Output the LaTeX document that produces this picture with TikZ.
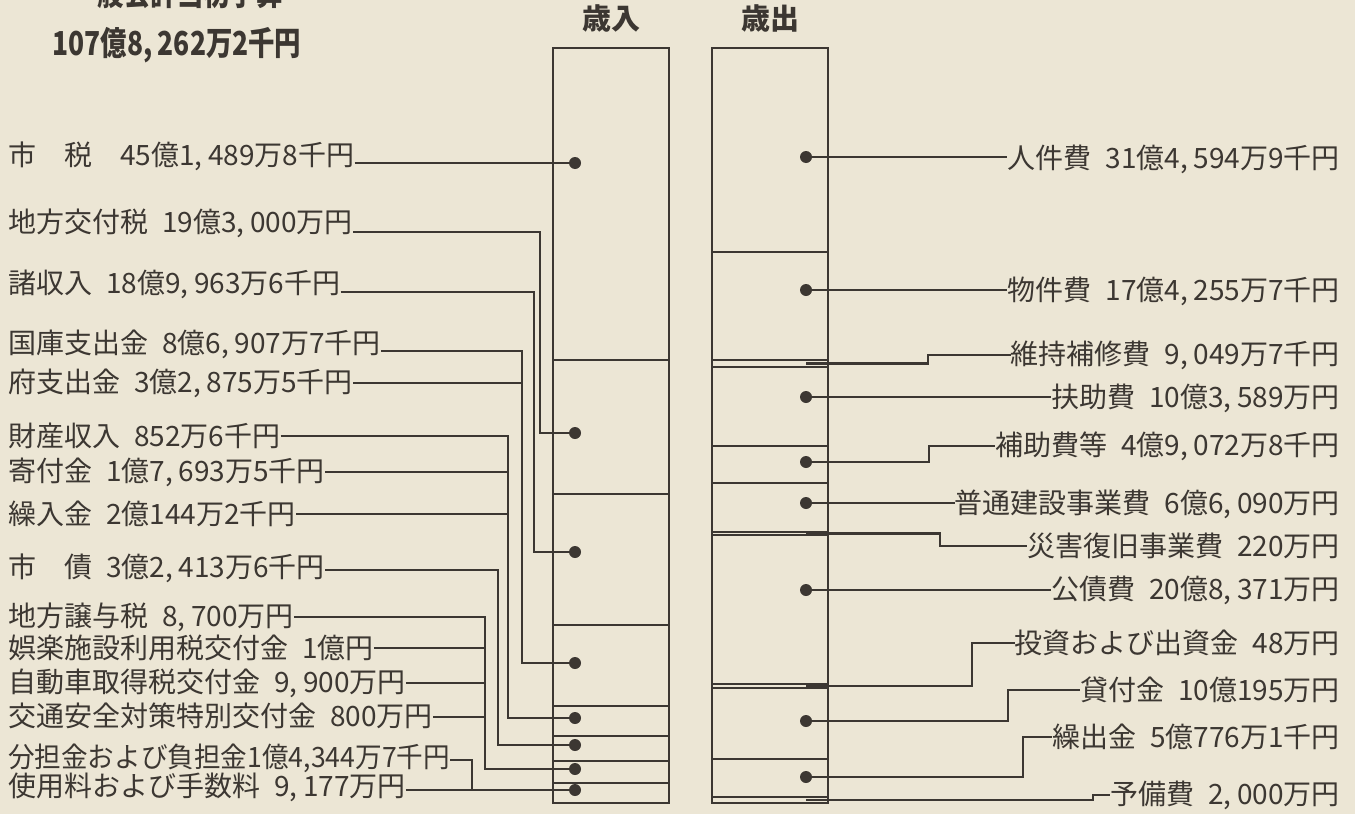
\documentclass[tikz,border=0pt]{standalone}
\usepackage{graphicx}
\usepackage{fontspec}
\setmainfont{Noto Sans CJK JP}
\definecolor{paper}{RGB}{236,230,213}
\definecolor{ink}{RGB}{60,55,50}
\newcommand{\jgap}{\hspace{0.5em}}
\newcommand{\cma}{,\hspace{0.2em}}
\begin{document}
\begin{tikzpicture}[x=1pt,y=-1pt,
  conn/.style={draw=ink,line width=2.2pt},
  colbox/.style={draw=ink,line width=2.2pt},
  dot/.style={circle,fill=ink,inner sep=0pt,minimum size=12pt},
  lbl/.style={inner sep=0pt,text=ink,font=\fontsize{28}{30}\selectfont},
  ttl/.style={inner sep=0pt,text=ink,font=\fontsize{33}{35}\selectfont\bfseries},
  hdr/.style={inner sep=0pt,text=ink,font=\fontsize{29}{32}\selectfont\bfseries}]
\useasboundingbox (0,0) rectangle (1355,814);
\clip (0,0) rectangle (1355,814);
\fill[paper] (0,0) rectangle (1355,814);

% titles
\node[ttl] (t1) at (177,-7) {\scalebox{0.8}[1]{一般会計当初予算}};
\node[ttl] (t2) at (177,45) {\scalebox{0.8}[1]{107億8\cma 262万2千円}};
\node[hdr] (h1) at (611,18) {歳入};
\node[hdr] (h2) at (770,18) {歳出};

% revenue column
\draw[colbox] (553,48) rectangle (669,803);
\foreach \yy in {360,494,625,706,736,761,783}
  \draw[colbox] (553,\yy) -- (669,\yy);
% expense column
\draw[colbox] (712,48) rectangle (828,803);
\foreach \yy in {252,360,367,446,483,532,535,684,688,759,797}
  \draw[colbox] (712,\yy) -- (828,\yy);

% revenue dots
\node[dot] (d1) at (575,163) {};
\node[dot] (d2) at (575,433) {};
\node[dot] (d3) at (575,552) {};
\node[dot] (d4) at (575,663) {};
\node[dot] (d5) at (575,718) {};
\node[dot] (d6) at (575,745) {};
\node[dot] (d7) at (575,769) {};
\node[dot] (d8) at (575,790) {};

% expense dots
\node[dot] (e1) at (806,157) {};
\node[dot] (e2) at (806,290) {};
\node[dot] (e4) at (806,397) {};
\node[dot] (e5) at (806,462) {};
\node[dot] (e6) at (806,503) {};
\node[dot] (e8) at (806,590) {};
\node[dot] (e10) at (806,721) {};
\node[dot] (e11) at (806,777) {};
\coordinate (e3) at (806,363.5);
\coordinate (e7) at (806,533.5);
\coordinate (e9) at (806,686);
\coordinate (e12) at (806,800);

% left labels
\node[lbl,anchor=west] (l1) at (8,156) {市　税　45億1\cma 489万8千円};
\node[lbl,anchor=west] (l2) at (8,223) {地方交付税\jgap 19億3\cma 000万円};
\node[lbl,anchor=west] (l3) at (8,284) {諸収入\jgap 18億9\cma 963万6千円};
\node[lbl,anchor=west] (l4) at (8,344) {国庫支出金\jgap 8億6\cma 907万7千円};
\node[lbl,anchor=west] (l5) at (8,383) {府支出金\jgap 3億2\cma 875万5千円};
\node[lbl,anchor=west] (l6) at (8,436) {財産収入\jgap 852万6千円};
\node[lbl,anchor=west] (l7) at (8,472) {寄付金\jgap 1億7\cma 693万5千円};
\node[lbl,anchor=west] (l8) at (8,514) {繰入金\jgap 2億144万2千円};
\node[lbl,anchor=west] (l9) at (8,568) {市　債\jgap 3億2\cma 413万6千円};
\node[lbl,anchor=west] (l10) at (8,617) {地方譲与税\jgap 8\cma 700万円};
\node[lbl,anchor=west] (l11) at (8,648) {娯楽施設利用税交付金\jgap 1億円};
\node[lbl,anchor=west] (l12) at (8,683) {自動車取得税交付金\jgap 9\cma 900万円};
\node[lbl,anchor=west] (l13) at (8,716) {交通安全対策特別交付金\jgap 800万円};
\node[lbl,anchor=west] (l14) at (8,758) {\scalebox{0.95}[1]{分担金および負担金1億4,344万7千円}};
\node[lbl,anchor=west] (l15) at (8,787) {使用料および手数料\jgap 9\cma 177万円};

% left connectors
\draw[conn] (l1.east |- 0,163) -- (d1.center);
\draw[conn] (l2.east |- 0,232) -- (540,232) |- (d2.center);
\draw[conn] (l3.east |- 0,292) -- (534,292) |- (d3.center);
\draw[conn] (l4.east |- 0,351) -- (522,351) |- (d4.center);
\draw[conn] (l5.east |- 0,383) -- (522,383);
\draw[conn] (l6.east |- 0,436) -- (508,436) |- (d5.center);
\draw[conn] (l7.east |- 0,472) -- (508,472);
\draw[conn] (l8.east |- 0,514) -- (508,514);
\draw[conn] (l9.east |- 0,570) -- (498,570) |- (d6.center);
\draw[conn] (l10.east |- 0,617) -- (485,617) |- (d7.center);
\draw[conn] (l11.east |- 0,648) -- (485,648);
\draw[conn] (l12.east |- 0,683) -- (485,683);
\draw[conn] (l13.east |- 0,717) -- (485,717);
\draw[conn] (l14.east |- 0,760) -- (472,760) -- (472,790);
\draw[conn] (l15.east |- 0,790) -- (d8.center);

% right labels
\node[lbl,anchor=east] (r1) at (1340,159) {人件費\jgap 31億4\cma 594万9千円};
\node[lbl,anchor=east] (r2) at (1340,291) {物件費\jgap 17億4\cma 255万7千円};
\node[lbl,anchor=east] (r3) at (1340,355) {維持補修費\jgap 9\cma 049万7千円};
\node[lbl,anchor=east] (r4) at (1340,398) {扶助費\jgap 10億3\cma 589万円};
\node[lbl,anchor=east] (r5) at (1340,446) {補助費等\jgap 4億9\cma 072万8千円};
\node[lbl,anchor=east] (r6) at (1340,504) {普通建設事業費\jgap 6億6\cma 090万円};
\node[lbl,anchor=east] (r7) at (1340,546) {災害復旧事業費\jgap 220万円};
\node[lbl,anchor=east] (r8) at (1340,590) {公債費\jgap 20億8\cma 371万円};
\node[lbl,anchor=east] (r9) at (1340,643) {投資および出資金\jgap 48万円};
\node[lbl,anchor=east] (r10) at (1340,690) {貸付金\jgap 10億195万円};
\node[lbl,anchor=east] (r11) at (1340,737) {繰出金\jgap 5億776万1千円};
\node[lbl,anchor=east] (r12) at (1340,795) {予備費\jgap 2\cma 000万円};

% right connectors
\draw[conn] (e1.center) -- (r1.west |- e1);
\draw[conn] (e2.center) -- (r2.west |- e2);
\draw[conn] (e3) -- (928,363.5) |- (r3.west);
\draw[conn] (e4.center) -- (r4.west |- e4);
\draw[conn] (e5.center) -- (929,462) |- (r5.west);
\draw[conn] (e6.center) -- (r6.west |- e6);
\draw[conn] (e7) -- (940,533.5) |- (r7.west);
\draw[conn] (e8.center) -- (r8.west |- e8);
\draw[conn] (e9) -- (972,686) |- (r9.west);
\draw[conn] (e10.center) -- (1008,721) |- (r10.west);
\draw[conn] (e11.center) -- (1023,777) |- (r11.west);
\draw[conn] (e12) -- (1093,800) |- (r12.west);
\end{tikzpicture}
\end{document}
